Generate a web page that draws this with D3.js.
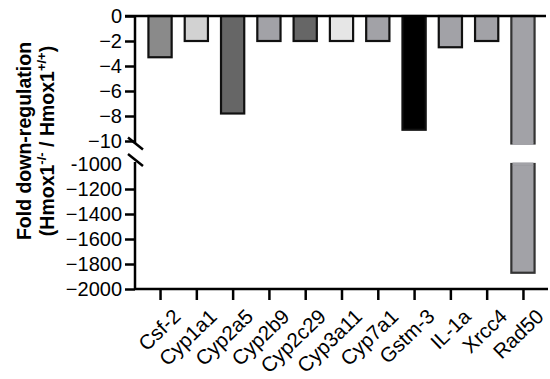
<!DOCTYPE html>
<html><head><meta charset="utf-8">
<script src="https://cdn.jsdelivr.net/npm/d3@7"></script>
<style>body{margin:0;background:#fff}svg{display:block}text{font-family:"Liberation Sans",Arial,sans-serif}</style>
</head><body><div id="c"></div>
<script>
const categories = ["Csf-2","Cyp1a1","Cyp2a5","Cyp2b9","Cyp2c29","Cyp3a11","Cyp7a1","Gstm-3","IL-1a","Xrcc4","Rad50"];
const values = [-3.3,-2,-7.8,-2,-2,-2,-2,-9.1,-2.5,-2,-1870];
const colors = ["#8a8a8a","#d2d2d2","#666666","#a2a2a7","#666666","#e6e6e6","#a2a2a7","#000000","#a2a2a7","#a2a2a7","#a2a2a7"];
const topTicks = [0,-2,-4,-6,-8,-10];
const botTicks = [-1000,-1200,-1400,-1600,-1800,-2000];

const W=550,H=379;
const svg=d3.select("#c").append("svg").attr("width",W).attr("height",H);
const x0=135,x1=548;
const x=d3.scalePoint().domain(categories).range([x0,x1]).padding(0.69);
const bw=x.step()*0.64;
const yT=d3.scaleLinear().domain([0,-10]).range([16,141]);
const yB=d3.scaleLinear().domain([-1000,-2000]).range([164,289]);
const fs=20;

// bars
categories.forEach((c,i)=>{
  const v=values[i];
  const cx=x(c);
  if(v>=-10){
    svg.append("rect").attr("x",cx-bw/2).attr("y",yT(0)).attr("width",bw).attr("height",yT(v)-yT(0))
      .attr("fill",colors[i]).attr("stroke","#111").attr("stroke-width",2.2);
  } else {
    svg.append("rect").attr("x",cx-bw/2).attr("y",yT(0)).attr("width",bw).attr("height",yT(-10.2)-yT(0))
      .attr("fill",colors[i]).attr("stroke","#333").attr("stroke-width",2.2);
    svg.append("rect").attr("x",cx-bw/2).attr("y",yB(-1000)).attr("width",bw).attr("height",yB(v)-yB(-1000))
      .attr("fill",colors[i]).attr("stroke","#333").attr("stroke-width",2.2);
    svg.append("rect").attr("x",cx-bw/2+1.1).attr("y",yT(-10.2)-1.5).attr("width",bw-2.2).attr("height",3).attr("fill",colors[i]);
    svg.append("rect").attr("x",cx-bw/2+1.1).attr("y",yB(-1000)-1.5).attr("width",bw-2.2).attr("height",3).attr("fill",colors[i]);
  }
});

// top axis
const gT=svg.append("g").attr("transform",`translate(${x0},0)`)
  .call(d3.axisLeft(yT).tickValues(topTicks).tickSize(10).tickPadding(3).tickFormat(d3.format("d")));
gT.select(".domain").remove();
svg.append("line").attr("x1",x0).attr("x2",x0).attr("y1",yT(0)).attr("y2",yT(-10.2)).attr("stroke","#000").attr("stroke-width",2.5);
svg.append("line").attr("x1",x0-10).attr("x2",546).attr("y1",yT(0)).attr("y2",yT(0)).attr("stroke","#000").attr("stroke-width",2.5);
// bottom axis
const gB=svg.append("g").attr("transform",`translate(${x0},0)`)
  .call(d3.axisLeft(yB).tickValues(botTicks.slice(1)).tickSize(10).tickPadding(3).tickFormat(d3.format("d")));
gB.select(".domain").remove();
svg.append("text").attr("x",x0-13).attr("y",yB(-1000)).attr("dy","0.34em").attr("text-anchor","end").attr("font-size",fs).text("-1000");
svg.append("line").attr("x1",x0).attr("x2",x0).attr("y1",yB(-1000)-2).attr("y2",yB(-2000)).attr("stroke","#000").attr("stroke-width",2.5);
// break marks
[yT(-10.2),yB(-1000)-4].forEach(yy=>{
  svg.append("line").attr("x1",x0-7).attr("x2",x0+8).attr("y1",yy-6).attr("y2",yy+6).attr("stroke","#000").attr("stroke-width",2.5);
});
[gT,gB].forEach(g=>{
  g.selectAll(".tick line").attr("stroke","#000").attr("stroke-width",2.5);
  g.selectAll(".tick text").attr("font-size",fs).attr("fill","#000").attr("dy","0.34em").attr("font-family","Liberation Sans, Arial, sans-serif");
});

// x axis
const gX=svg.append("g").attr("transform",`translate(0,${yB(-2000)})`)
  .call(d3.axisBottom(x).tickSize(11).tickPadding(4));
gX.select(".domain").attr("d",`M${x0},0H${x1}`).attr("stroke","#000").attr("stroke-width",2.5);
gX.selectAll(".tick line").attr("stroke","#000").attr("stroke-width",2.5);
gX.selectAll(".tick text").attr("font-size",20.5).attr("fill","#000").attr("font-family","Liberation Sans, Arial, sans-serif")
  .attr("text-anchor","end").attr("dy","0.35em").attr("transform","translate(6,13) rotate(-44)");

// y label
const lab=svg.append("text").attr("transform","translate(31,141) rotate(-90)").attr("text-anchor","middle")
  .attr("font-size",19.5).attr("font-weight","bold");
lab.append("tspan").attr("x",0).attr("y",0).text("Fold down-regulation");
const l2=svg.append("text").attr("transform","translate(54,141) rotate(-90)").attr("text-anchor","middle")
  .attr("font-size",19.5).attr("font-weight","bold");
l2.append("tspan").text("(Hmox1");
l2.append("tspan").attr("font-size",13).attr("dy",-8).text("-/-");
l2.append("tspan").attr("dy",8).text(" / Hmox1");
l2.append("tspan").attr("font-size",13).attr("dy",-8).text("+/+");
l2.append("tspan").attr("dy",8).text(")");
</script></body></html>
